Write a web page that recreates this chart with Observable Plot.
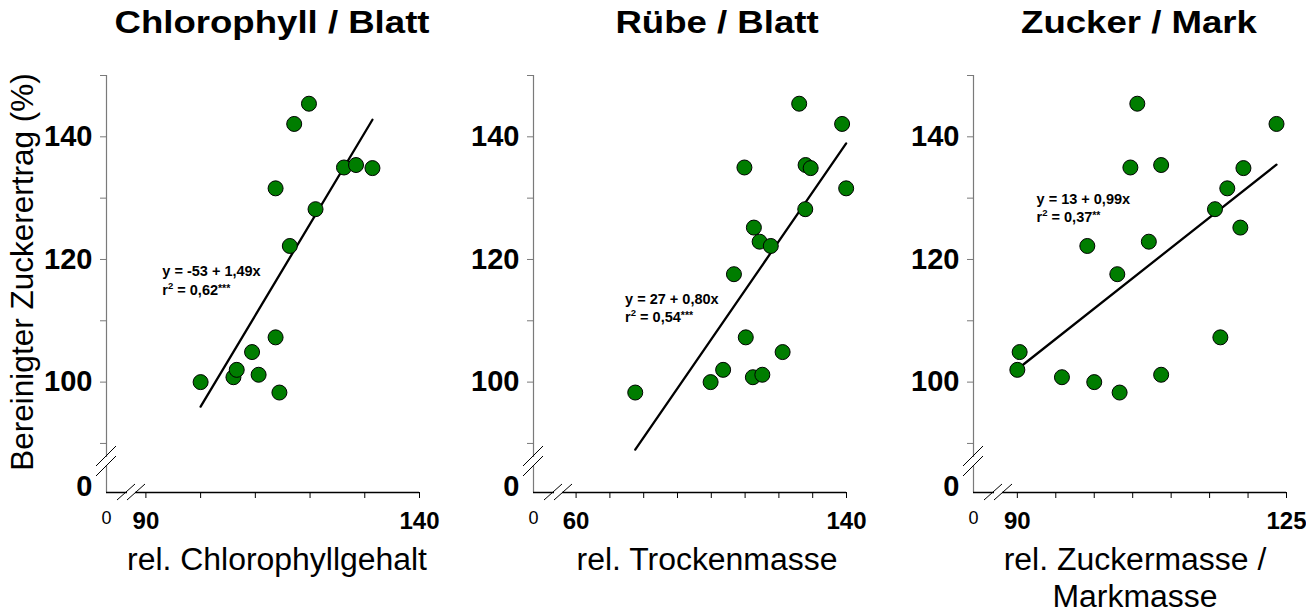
<!DOCTYPE html>
<html>
<head>
<meta charset="utf-8">
<script src="https://cdn.jsdelivr.net/npm/d3@7"></script>
<script src="https://cdn.jsdelivr.net/npm/@observablehq/plot@0.6"></script>
<style>
  body { margin: 0; background: white; }
  #root { position: relative; width: 1306px; height: 615px; background: white; overflow: hidden;
          font-family: "Liberation Sans", Arial, sans-serif; color: black; }
  .panel { position: absolute; top: 0; }
  .lbl { position: absolute; white-space: nowrap; line-height: 1; }
</style>
</head>
<body>
<div id="root"></div>
<script>
// ---------- data ----------
const titles = ["Chlorophyll / Blatt", "Rübe / Blatt", "Zucker / Mark"];
const xLabels = [["rel. Chlorophyllgehalt"], ["rel. Trockenmasse"], ["rel. Zuckermasse /", "Markmasse"]];
const yLabel = "Bereinigter Zuckerertrag (%)";

// Panel 1: Chlorophyll / Blatt
const chlX = [100.0, 106.0, 106.6, 109.4, 110.6, 113.7, 114.4, 113.7, 116.3, 117.1, 119.8, 121.0, 126.2, 128.4, 131.4];
const chlY = [100.0, 100.8, 102.0, 104.9, 101.2, 107.3, 98.3, 131.6, 122.2, 142.1, 145.4, 128.2, 135.0, 135.4, 134.9];
// Panel 2: Rübe / Blatt
const rubeX = [126.0, 138.7, 109.8, 127.9, 129.4, 139.9, 127.8, 112.6, 114.3, 117.6, 106.7, 110.2, 121.1, 103.5, 99.8, 112.3, 115.1, 77.5];
const rubeY = [145.4, 142.1, 135.0, 135.4, 134.9, 131.6, 128.2, 125.2, 122.9, 122.2, 117.6, 107.3, 104.9, 102.0, 100.0, 100.8, 101.2, 98.3];
// Panel 3: Zucker / Mark
const zuckX = [105.6, 123.7, 104.7, 108.7, 119.4, 117.3, 115.7, 119.0, 107.1, 99.1, 103.0, 116.4, 90.3, 90.0, 100.0, 95.8, 108.7, 103.3];
const zuckY = [145.4, 142.1, 135.0, 135.4, 134.9, 131.6, 128.2, 125.2, 122.9, 122.2, 117.6, 107.3, 104.9, 102.0, 100.0, 100.8, 101.2, 98.3];

// regression equations as printed
const intercepts = [-53, 27, 13];
const slopes = [1.49, 0.80, 0.99];
const eqTexts = ["y = -53 + 1,49x", "y = 27 + 0,80x", "y = 13 + 0,99x"];
const r2Texts = ["0,62", "0,54", "0,37"];
const sigTexts = ["***", "***", "**"];

// ticks
const xTicks = [[90, 100, 110, 120, 130, 140], [60, 70, 80, 90, 100, 110, 120, 130, 140], [90, 95, 100, 105, 110, 115, 120, 125]];
const xTickLabels = [[90, 140], [60, 140], [90, 125]];
const yTicks = [90, 100, 110, 120, 130, 140, 150];
const yTickLabels = [100, 120, 140];

// ---------- layout / scale config ----------
const xDomains = [[82.8, 140], [47.4, 140], [84.3, 125]];
const yDomain = [82, 150];
const svgLeft = [0, 440, 880];
const svgWidth = [440, 440, 426];
const mLeft = [106, 93, 93];
const mRight = [21, 34, 20];
const mTop = 75, mBottom = 123, H = 615;
const eqPos = [[93.0, 118.0], [74.5, 113.5], [92.5, 129.8]]; // data coords of equation text (left, first line)
const eqLineGap = [3.0, 2.9, 2.9];

const panels = [[chlX, chlY], [rubeX, rubeY], [zuckX, zuckY]];
const root = document.getElementById("root");
const FONT = "'Liberation Sans', Arial, sans-serif";

panels.forEach(([xs, ys], i) => {
  const pts = xs.map((x, j) => ({x, y: ys[j]}));
  const [x0, x1] = d3.extent(xs);
  const fit = [x0, x1].map(x => ({x, y: intercepts[i] + slopes[i] * x}));
  const xd = xDomains[i];
  const eq = [
    {x: eqPos[i][0], y: eqPos[i][1], t: eqTexts[i]},
    {x: eqPos[i][0], y: eqPos[i][1] - eqLineGap[i], t: `r{2} = ${r2Texts[i]}{${sigTexts[i]}}`}
  ];
  const plot = Plot.plot({
    width: svgWidth[i], height: H,
    marginTop: mTop, marginBottom: mBottom, marginLeft: mLeft[i], marginRight: mRight[i],
    style: {fontFamily: FONT, background: "transparent", maxWidth: "none", overflow: "visible"},
    x: {domain: xd},
    y: {domain: yDomain},
    marks: [
      // y axis: ticks and labels
      Plot.axisY(yTicks, {tickSize: 6, stroke: "#7a7a7a", tickFormat: () => "", label: null}),
      Plot.axisY(yTickLabels, {tickSize: 0, tickPadding: 14, fontSize: 29, fontWeight: "bold", fill: "black", label: null}),
      Plot.text(["0"], {x: xd[0], y: yDomain[0], text: d => d, textAnchor: "end", dx: -14, dy: -6, fontSize: 29, fontWeight: "bold"}),
      // x axis
      Plot.axisX(xTicks[i], {tickSize: 6, stroke: "black", tickFormat: () => "", label: null}),
      Plot.axisX(xTickLabels[i], {tickSize: 0, tickPadding: 19, fontSize: 24, fontWeight: "bold", fill: "black", label: null}),
      Plot.text(["0"], {x: xd[0], y: yDomain[0], text: d => d, dy: 26, fontSize: 18}),
      // axis lines
      Plot.ruleX([xd[0]], {stroke: "#7a7a7a", strokeWidth: 1.2}),
      Plot.ruleY([yDomain[0]], {stroke: "black", strokeWidth: 1.3}),
      // regression line
      Plot.line(fit, {x: "x", y: "y", stroke: "black", strokeWidth: 2.3}),
      // points
      Plot.dot(pts, {x: "x", y: "y", r: 7.5, fill: "#007d00", stroke: "black", strokeWidth: 1}),
      // equation
      Plot.text(eq, {x: "x", y: "y", text: "t", textAnchor: "start", fontSize: 14.5, fontWeight: "bold"})
    ]
  });
  plot.classList.add("panel");
  plot.style.left = svgLeft[i] + "px";

  // superscripts in equation text
  d3.select(plot).selectAll("text").each(function() {
    const s = this.textContent;
    if (!s.includes("{")) return;
    const parts = s.split(/(\{[^}]*\})/).filter(p => p.length);
    this.textContent = "";
    let raised = 0;
    parts.forEach(p => {
      const sup = p.startsWith("{");
      const ts = d3.select(this).append("tspan").text(sup ? p.slice(1, -1) : p);
      if (sup) { const r = p.includes("*") ? 3 : 6; ts.attr("font-size", p.includes("*") ? 10.5 : 9.5).attr("dy", -r); raised = r; }
      else if (raised) { ts.attr("dy", raised); raised = 0; }
    });
  });

  // axis break marks (decoration)
  const ox = mLeft[i], oy = H - mBottom;
  const g = d3.select(plot).append("g").attr("stroke", "black").attr("stroke-width", 1).attr("fill", "none");
  g.append("line").attr("x1", ox).attr("x2", ox).attr("y1", oy - 35).attr("y2", oy - 27).attr("stroke", "white").attr("stroke-width", 4);
  g.append("line").attr("x1", ox + 21).attr("x2", ox + 29).attr("y1", oy).attr("y2", oy).attr("stroke", "white").attr("stroke-width", 4);
  [oy - 36, oy - 26].forEach(cy => g.append("line").attr("x1", ox - 10).attr("y1", cy + 10).attr("x2", ox + 10).attr("y2", cy - 10));
  [ox + 20, ox + 30].forEach(cx => g.append("line").attr("x1", cx - 9).attr("y1", oy + 8).attr("x2", cx + 9).attr("y2", oy - 8));

  root.appendChild(plot);
});

// ---------- titles & labels (HTML text) ----------
function addLabel(text, cx, baseline, size, weight, sx = 1) {
  const d = document.createElement("div");
  d.className = "lbl";
  d.textContent = text;
  d.style.fontSize = size + "px";
  d.style.fontWeight = weight;
  d.style.left = cx + "px";
  d.style.top = (baseline - 0.8465 * size) + "px";
  d.style.transform = `translateX(-50%) scaleX(${sx})`;
  root.appendChild(d);
}
const titleCx = [271.5, 717, 1139];
titles.forEach((t, i) => addLabel(t, titleCx[i], 33.5, 31, "bold", 1.18));
const xLabCx = [276.5, 707, 1135];
xLabels.forEach((lines, i) => lines.forEach((t, k) => addLabel(t, xLabCx[i], 570 + k * 37.5, 31, "normal", 1.03)));

const yl = document.createElement("div");
yl.className = "lbl";
yl.textContent = yLabel;
yl.style.fontSize = "31.5px";
yl.style.left = "23px";
yl.style.top = "272px";
yl.style.transform = "translate(-50%, -50%) rotate(-90deg)";
root.appendChild(yl);
</script>
</body>
</html>
